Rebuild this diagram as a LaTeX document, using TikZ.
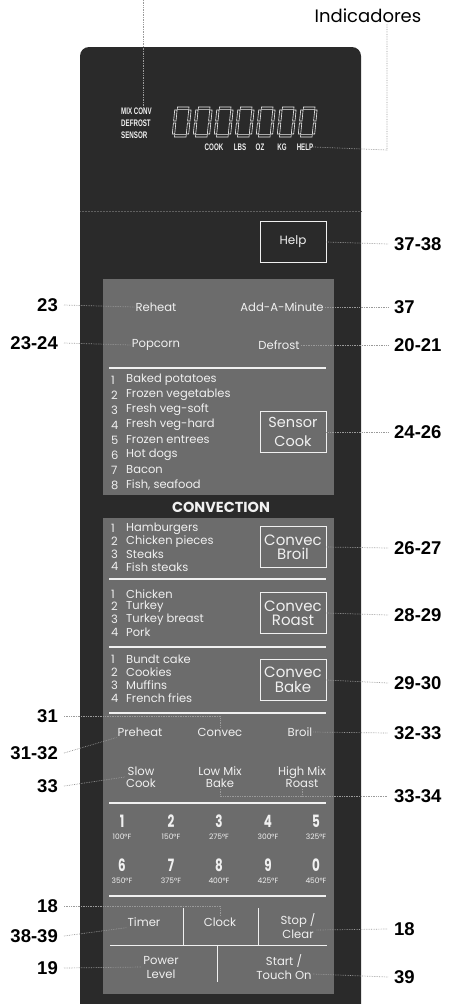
\documentclass[tikz,border=0pt]{standalone}
\usepackage{fontspec}
\usetikzlibrary{positioning,calc}
\newfontfamily\panelfont{Poppins}
\newfontfamily\keyfont[FakeStretch=0.7]{Poppins}
\newfontfamily\calloutfont{Liberation Sans}
\newfontfamily\lcdfont[FakeStretch=0.65]{Liberation Sans}
\definecolor{PanelDark}{HTML}{2A2A2A}
\definecolor{PanelGray}{HTML}{6C6C6C}
\definecolor{KeyWhite}{HTML}{F0F0F0}
\definecolor{LeaderGray}{HTML}{9A9A9A}

\begin{document}
\begin{tikzpicture}[x=1pt,y=-1pt,
  key/.style={text=KeyWhite,font=\panelfont\fontsize{11.6}{12.5}\selectfont,align=center,inner sep=1pt},
  bigkey/.style={draw=KeyWhite,line width=0.9pt,text=KeyWhite,font=\panelfont\fontsize{15}{14}\selectfont,align=center,minimum width=66pt,minimum height=41pt,inner sep=0pt},
  item/.style={text=KeyWhite,font=\panelfont\fontsize{11.5}{12}\selectfont,anchor=west,inner sep=0pt},
  digit/.style={text=KeyWhite,font=\keyfont\bfseries\fontsize{17}{17}\selectfont,inner sep=0pt},
  temp/.style={text=KeyWhite,font=\panelfont\fontsize{7.5}{8}\selectfont,inner sep=0pt},
  lcd/.style={text=KeyWhite,font=\lcdfont\bfseries\fontsize{9.5}{12}\selectfont,inner sep=0pt},
  num/.style={font=\calloutfont\bfseries\fontsize{18.5}{19}\selectfont,inner xsep=6pt,inner ysep=0pt},
  leader/.style={densely dotted,LeaderGray,line width=0.7pt},
  rule/.style={KeyWhite,line width=1.3pt}]
\useasboundingbox (0,0) rectangle (452,1004);
\fill[PanelDark,rounded corners=9pt] (80,1020) -- (80,47) -- (361,47) -- (361,1020) -- cycle;
\draw[PanelDark!75!white,densely dotted,line width=0.5pt] (80,211) -- (361,211);
\fill[PanelGray] (103,279) rectangle (334,495);
\fill[PanelGray] (103,518) rectangle (334,994);

% display
\node[lcd,align=left,anchor=west] (modes) at (121,123) {MIX CONV\\DEFROST\\SENSOR};
\foreach \i in {0,...,6}{
  \begin{scope}[shift={(172+21*\i,137)},xslant=0.1,KeyWhite,line width=0.6pt]
    \draw (2.5,-30) rectangle (14,-27.6);
    \draw (2.5,-2.4) rectangle (14,0);
    \draw (0,-27) rectangle (2.4,-16);
    \draw (0,-14) rectangle (2.4,-3);
    \draw (14,-27) rectangle (16.4,-16);
    \draw (14,-14) rectangle (16.4,-3);
  \end{scope}
}
\node[lcd] (lcdcook) at (214,147) {COOK};
\node[lcd] (lcdlbs) at (240,147) {LBS};
\node[lcd] (lcdoz) at (260,147) {OZ};
\node[lcd] (lcdkg) at (282,147) {KG};
\node[lcd] (lcdhelp) at (305,147) {HELP};

% keys
\node[bigkey,font=\panelfont\fontsize{12}{12}\selectfont] (help) at (293,242) {Help};
\node[key] (reheat) at (156,307) {Reheat};
\node[key] (addmin) at (282,307) {Add-A-Minute};
\node[key] (popcorn) at (156,345) {Popcorn};
\node[key] (defrost) at (279,345) {Defrost};
\draw[rule] (109,368) -- (326,368);
\foreach \t [count=\i] in {Baked potatoes,Frozen vegetables,Fresh veg-soft,Fresh veg-hard,Frozen entrees,Hot dogs,Bacon,{Fish, seafood}}{
  \node[item] (sn\i) at (111,365+15*\i) {\i};
  \node[item] (st\i) at (126,365+15*\i) {\t};
}
\node[bigkey,font=\panelfont\fontsize{14.5}{19}\selectfont] (sensor) at (293,432) {Sensor\\Cook};
\node[key,font=\panelfont\bfseries\fontsize{14.5}{15}\selectfont] (convection) at (221,507) {CONVECTION};

\foreach \t [count=\i] in {Hamburgers,Chicken pieces,Steaks,Fish steaks}{
  \node[item] (bn\i) at (111,516+12.7*\i) {\i};
  \node[item] (bt\i) at (126,516+12.7*\i) {\t};
}
\node[bigkey,font=\panelfont\fontsize{15}{14}\selectfont] (broilbox) at (293,547) {Convec\\Broil};
\draw[rule] (109,579) -- (326,579);
\foreach \t [count=\i] in {Chicken,Turkey,Turkey breast,Pork}{
  \node[item] (rn\i) at (111,581.5+12.6*\i) {\i};
  \node[item] (rt\i) at (126,581.5+12.6*\i) {\t};
}
\node[bigkey,font=\panelfont\fontsize{15}{14}\selectfont] (roastbox) at (293,613) {Convec\\Roast};
\draw[rule] (109,647) -- (326,647);
\foreach \t [count=\i] in {Bundt cake,Cookies,Muffins,French fries}{
  \node[item] (kn\i) at (111,646+13*\i) {\i};
  \node[item] (kt\i) at (126,646+13*\i) {\t};
}
\node[bigkey,font=\panelfont\fontsize{15}{15}\selectfont] (bakebox) at (293,680) {Convec\\Bake};
\draw[rule] (109,713) -- (326,713);

\node[key] (preheat) at (140,732) {Preheat};
\node[key] (convec) at (220,732) {Convec};
\node[key] (broil) at (300,732) {Broil};
\node[key] (slowcook) at (141,777) {Slow\\Cook};
\node[key] (lowmix) at (220,777) {Low Mix\\Bake};
\node[key] (highmix) at (302,777) {High Mix\\Roast};
\draw[rule] (109,803) -- (326,803);

\foreach \d/\t/\x in {1/100/122,2/150/171,3/275/219,4/300/268,5/325/316}{
  \node[digit] (d\d) at (\x,821) {\d};
  \node[temp] (t\d) at (\x,836.5) {\t°F};
}
\foreach \d/\t/\x in {6/350/122,7/375/171,8/400/219,9/425/268,0/450/316}{
  \node[digit] (d\d) at (\x,865) {\d};
  \node[temp] (t\d) at (\x,880.5) {\t°F};
}
\draw[rule] (109,896) -- (326,896);
\draw[KeyWhite,line width=0.9pt] (110,945) -- (327,945);
\draw[KeyWhite,line width=0.9pt] (183,908) -- (183,945);
\draw[KeyWhite,line width=0.9pt] (258,908) -- (258,945);
\draw[KeyWhite,line width=0.9pt] (217,945) -- (217,982);
\node[key] (timer) at (144,922) {Timer};
\node[key] (clock) at (220,922) {Clock};
\node[key,font=\panelfont\fontsize{11.6}{14}\selectfont] (stop) at (298,926) {Stop /\\Clear};
\node[key,font=\panelfont\fontsize{11.6}{14}\selectfont] (power) at (161,967) {Power\\Level};
\node[key,font=\panelfont\fontsize{11.6}{14}\selectfont] (start) at (284,967) {Start /\\Touch On};

% callouts
\node[font=\panelfont\fontsize{18}{18}\selectfont,inner sep=1pt] (ind) at (368,16) {Indicadores};
\coordinate (modetop) at (143,0);
\coordinate (indbend) at (387,150);
\draw[leader] (modetop) -- (modetop |- modes.north);
\draw[leader] (lcdhelp.east) -- (indbend) -- (indbend |- ind.south);

\node[num,anchor=west] (n3738) at (388,244) {37-38};
\node[num,anchor=west] (n37) at (388,307) {37};
\node[num,anchor=west] (n2021) at (388,345) {20-21};
\node[num,anchor=west] (n2426) at (388,432) {24-26};
\node[num,anchor=west] (n2627) at (388,548) {26-27};
\node[num,anchor=west] (n2829) at (388,615) {28-29};
\node[num,anchor=west] (n2930) at (388,683) {29-30};
\node[num,anchor=west] (n3233) at (388,733) {32-33};
\node[num,anchor=west] (n3334) at (388,796) {33-34};
\node[num,anchor=west] (n18r) at (388,929) {18};
\node[num,anchor=west] (n39) at (388,977) {39};

\node[num,anchor=east] (n23) at (64,305) {23};
\node[num,anchor=east] (n2324) at (64,343) {23-24};
\node[num,anchor=east] (n31) at (64,716) {31};
\node[num,anchor=east] (n3132) at (64,753) {31-32};
\node[num,anchor=east] (n33) at (64,786) {33};
\node[num,anchor=east] (n18l) at (64,906) {18};
\node[num,anchor=east] (n3839) at (64,936) {38-39};
\node[num,anchor=east] (n19) at (64,968) {19};

\draw[leader] (help.east) -- (n3738.west);
\draw[leader] (addmin.east) -- (n37.west);
\draw[leader] (defrost.east) -- (n2021.west);
\draw[leader] (sensor.east) -- (n2426.west);
\draw[leader] (broilbox.east) -- (n2627.west);
\draw[leader] (roastbox.east) -- (n2829.west);
\draw[leader] (bakebox.east) -- (n2930.west);
\draw[leader] (broil.east) -- (n3233.west);
\draw[leader] (lowmix.south) -- (lowmix.south |- n3334.west) -- (n3334.west);
\draw[leader] (highmix.south) -- (highmix.south |- n3334.west);
\draw[leader] ([yshift=-4pt]stop.east) -- (n18r.west);
\draw[leader] ([yshift=-7pt]start.east) -- (n39.west);

\draw[leader] (n23.east) -- (reheat.west);
\draw[leader] (n2324.east) -- (popcorn.west);
\draw[leader] (n31.east) -- (n31.east -| convec.north) -- (convec.north);
\draw[leader] (n3132.east) -- (preheat.south west);
\draw[leader] (n33.east) -- (slowcook.west);
\draw[leader] (n18l.east) -- (n18l.east -| clock.north) -- (clock.north);
\draw[leader] (n3839.east) -- (timer.south west);
\draw[leader] (n19.east) -- (power.west);
\end{tikzpicture}
\end{document}
